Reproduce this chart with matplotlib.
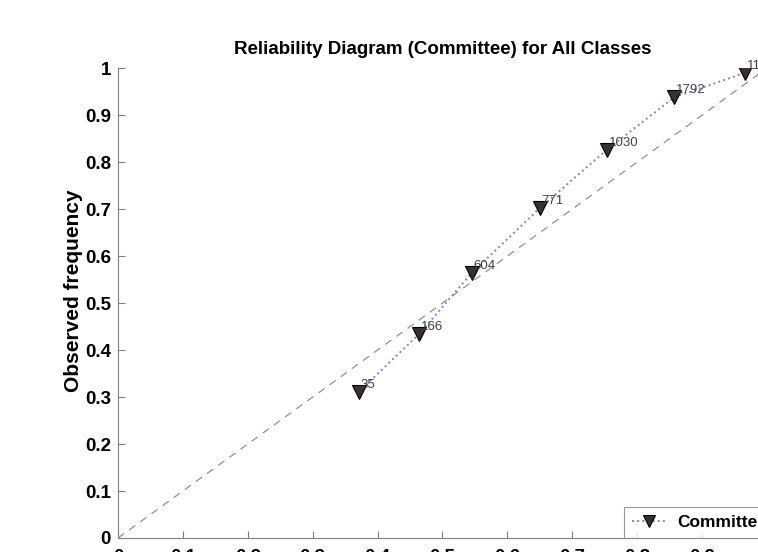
import matplotlib
matplotlib.use("Agg")
import matplotlib.pyplot as plt

plt.rcParams['font.family'] = ['Liberation Sans', 'DejaVu Sans']

# mean forecast probability per bin, observed frequency, sample count per bin
forecast = [0.371, 0.464, 0.545, 0.650, 0.753, 0.857, 0.966]
observed = [0.311, 0.434, 0.564, 0.702, 0.826, 0.938, 0.990]
counts = ["35", "166", "604", "771", "1030", "1792", "11564"]
ticks = [0, 0.1, 0.2, 0.3, 0.4, 0.5, 0.6, 0.7, 0.8, 0.9, 1]
tick_labels = ["0", "0.1", "0.2", "0.3", "0.4", "0.5", "0.6", "0.7", "0.8", "0.9", "1"]

fig = plt.figure(figsize=(7.58, 5.52), dpi=100)
# axes reach past the right edge of the canvas
ax = fig.add_axes([0.1557, 0.0254, 0.856, 0.851])

ax.plot([0, 1], [0, 1], linestyle=(0, (6, 5)), color='#909090', linewidth=0.9)
ax.plot(forecast, observed, linestyle=':', color='#8080e0', linewidth=1.4,
        marker='v', markersize=10.5, markerfacecolor='#3a3030',
        markeredgecolor='black', markeredgewidth=0.8, label='Committee')

for x, y, n in zip(forecast, observed, counts):
    ax.text(x + 0.003, y + 0.002, n, fontsize=9.5, color='#404040', ha='left', va='bottom')

ax.set_xlim(0, 1)
ax.set_ylim(0, 1)
ax.set_xticks(ticks)
ax.set_xticklabels(tick_labels)
ax.set_yticks(ticks)
ax.set_yticklabels(tick_labels)
ax.tick_params(direction='in', length=5, width=0.8, color='#808080',
               labelsize=13.5)
ax.tick_params(axis='y', pad=5)
ax.tick_params(axis='x', pad=8)
for lab in ax.get_xticklabels() + ax.get_yticklabels():
    lab.set_fontweight('bold')

for side in ['top', 'right']:
    ax.spines[side].set_visible(False)
for side in ['left', 'bottom']:
    ax.spines[side].set_color('#808080')
    ax.spines[side].set_linewidth(0.8)

ax.set_ylabel('Observed frequency', fontsize=15, fontweight='bold')
ax.yaxis.set_label_coords(-0.054, 0.526)
ax.set_title('Reliability Diagram (Committee) for All Classes',
             fontsize=13.5, fontweight='bold', pad=10)

leg = ax.legend(loc='lower right', bbox_to_anchor=(1.012, 0.0), borderaxespad=0.0,
                fancybox=False, prop={'weight': 'bold', 'size': 12.5},
                handlelength=2.0, handletextpad=0.6, borderpad=0.45,
                markerscale=0.85)
leg.get_frame().set_edgecolor('#808080')
leg.get_frame().set_linewidth(0.8)

fig.savefig('out.png', dpi=100)
